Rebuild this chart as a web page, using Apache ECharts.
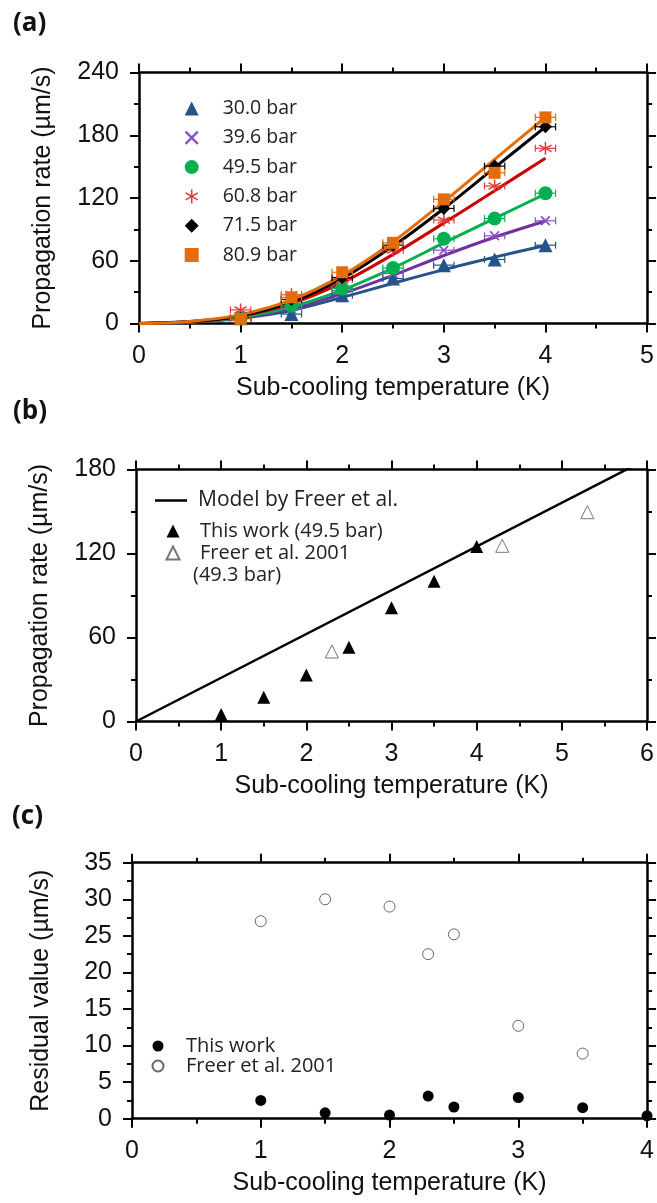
<!DOCTYPE html>
<html>
<head>
<meta charset="utf-8">
<script src="https://cdn.jsdelivr.net/npm/echarts@6/dist/echarts.min.js"></script>
<style>
html,body{margin:0;padding:0;background:#fff;}
#chart{width:657px;height:1203px;}
</style>
</head>
<body>
<div id="chart"></div>
<script>
// ---------------- DATA ----------------
// Panel (a): measured points (sub-cooling temperature K)
const ptsX = [1, 1.5, 2, 2.5, 3, 3.5, 4];
const names = ['30.0 bar', '39.6 bar', '49.5 bar', '60.8 bar', '71.5 bar', '80.9 bar'];
const p30 = [5, 9, 27, 43, 55.8, 61.2, 74.9];
const p39 = [5, 14, 31.5, 47.8, 70.1, 83.8, 98.2];
const p49 = [5, 17, 33.5, 53, 81, 100.3, 124.6];
const p60 = [13, 27.5, 42, 70.1, 98.9, 131.4, 167.5];
const p71 = [5, 23, 44, 74.9, 110, 150.5, 188.1];
const p80 = [4.5, 25, 49, 77.1, 118.7, 144.1, 197.1];
const xErr = [0.1, 0.1, 0.1, 0.1, 0.1, 0.1, 0.1];
const yErr30 = [0, 5, 6, 0, 0, 0, 0];
const yErrNone = [0, 0, 0, 0, 0, 0, 0];
// Panel (a): fitted curves
const fitX = [0, 0.5, 1, 1.5, 2, 2.5, 3, 3.5, 4];
const f30 = [0, 1.2, 5, 12.5, 25, 38.5, 51.5, 63.5, 74.5];
const f39 = [0, 1.3, 5.5, 14, 28.5, 46, 65, 82.5, 98];
const f49 = [0, 1.4, 6, 16, 32, 53, 77, 100.5, 124];
const f60 = [0, 1.6, 7, 19, 39, 66, 96, 127, 158];
const f71 = [0, 1.8, 7.5, 20.5, 43, 74, 110, 149, 188];
const f80 = [0, 2, 8.5, 22.5, 46, 78, 116.5, 157, 197];

// Panel (b)
const modelX = [0, 6];
const modelY = [0, 187.5];
const bWorkX = [1, 1.5, 2, 2.5, 3, 3.5, 4];
const bWorkY = [5, 17.4, 33.3, 53, 81.2, 100.2, 125];
const bFreerX = [2.3, 4.3, 5.3];
const bFreerY = [50, 125.5, 149.5];

// Panel (c)
const cWorkX = [1, 1.5, 2, 2.3, 2.5, 3, 3.5, 4];
const cWorkY = [2.5, 0.8, 0.5, 3.1, 1.6, 2.9, 1.5, 0.4];
const cFreerX = [1, 1.5, 2, 2.3, 2.5, 3, 3.5];
const cFreerY = [27, 30, 29, 22.5, 25.2, 12.7, 8.9];

// Axis ticks
const aX = {min: 0, max: 5, interval: 1};
const aY = {min: 0, max: 240, interval: 60};
const bX = {min: 0, max: 6, interval: 1};
const bY = {min: 0, max: 180, interval: 60};
const cX = {min: 0, max: 4, interval: 1};
const cY = {min: 0, max: 35, interval: 5};

// ---------------- STYLE ----------------
const colA = {
  mk: ['#24548a', '#8a4fc4', '#00b050', '#e03c3c', '#000000', '#e46c0a'],
  ln: ['#24548a', '#7030a0', '#00b050', '#cc0000', '#000000', '#e46c0a']
};
const crossPath = 'path://M0,1.2L1.2,0L5,3.8L8.8,0L10,1.2L6.2,5L10,8.8L8.8,10L5,6.2L1.2,10L0,8.8L3.8,5Z';
function starPath() {
  const R = 5, h = 0.55, ri = h / Math.sin(Math.PI / 6);
  const angs = [90, 30, -30, -90, -150, 150];
  const pts = [];
  const P = (a, r) => [5 + r * Math.cos(a), 5 - r * Math.sin(a)];
  angs.forEach(d => {
    const a = d * Math.PI / 180;
    const tx = R * Math.cos(a), ty = R * Math.sin(a);
    const px = -Math.sin(a) * h, py = Math.cos(a) * h;
    pts.push([5 + tx + px, 5 - (ty + py)]);
    pts.push([5 + tx - px, 5 - (ty - py)]);
    pts.push(P(a - Math.PI / 6, ri));
  });
  return 'path://M' + pts.map(p => p[0].toFixed(2) + ',' + p[1].toFixed(2)).join('L') + 'Z';
}
const symA = ['triangle', crossPath, 'circle', starPath(), 'diamond', 'rect'];
const sizeA = [14, 10, 14, 13, 13, 12];

const TF = 'Liberation Sans';
const LF = 'Open Sans';

function axisCommon(range, extra) {
  return Object.assign({
    type: 'value', min: range.min, max: range.max, interval: range.interval,
    axisLine: {show: true, onZero: false, lineStyle: {color: '#000', width: 2.5}},
    axisTick: {show: true, inside: false, length: 9, lineStyle: {color: '#000', width: 2}},
    minorTick: {show: true, splitNumber: 2, length: 5, lineStyle: {color: '#000', width: 2}},
    splitLine: {show: false},
    axisLabel: {show: false, fontFamily: TF, fontSize: 25, color: '#111', margin: 20},
    nameTextStyle: {fontFamily: TF, fontSize: 25, color: '#111'}
  }, extra || {});
}
function xBottom(g, r, gap) {
  return axisCommon(r, {gridIndex: g, position: 'bottom',
    axisLabel: {show: true, fontFamily: TF, fontSize: 25, color: '#111', margin: 20},
    name: 'Sub-cooling temperature (K)', nameLocation: 'middle', nameGap: gap});
}
function xTop(g, r) { return axisCommon(r, {gridIndex: g, position: 'top'}); }
function yLeft(g, r, name, gap) {
  return axisCommon(r, {gridIndex: g, position: 'left',
    axisLabel: {show: true, fontFamily: TF, fontSize: 25, color: '#111', margin: 20},
    name: name, nameLocation: 'middle', nameGap: gap});
}
function yRight(g, r) { return axisCommon(r, {gridIndex: g, position: 'right'}); }

function errRender(params, api) {
  const x = api.value(0), y = api.value(1), xe = api.value(2), ye = api.value(3);
  const color = api.visual('color');
  const st = {stroke: color, lineWidth: 1.2};
  const l = api.coord([x - xe, y]), r = api.coord([x + xe, y]);
  const ch = [
    {type: 'line', shape: {x1: l[0], y1: l[1], x2: r[0], y2: r[1]}, style: st},
    {type: 'line', shape: {x1: l[0], y1: l[1] - 3.5, x2: l[0], y2: l[1] + 3.5}, style: st},
    {type: 'line', shape: {x1: r[0], y1: r[1] - 3.5, x2: r[0], y2: r[1] + 3.5}, style: st}
  ];
  if (ye > 0) {
    const t = api.coord([x, y + ye]), b = api.coord([x, y - ye]);
    ch.push({type: 'line', shape: {x1: t[0], y1: t[1], x2: b[0], y2: b[1]}, style: st});
    ch.push({type: 'line', shape: {x1: t[0] - 3.5, y1: t[1], x2: t[0] + 3.5, y2: t[1]}, style: st});
    ch.push({type: 'line', shape: {x1: b[0] - 3.5, y1: b[1], x2: b[0] + 3.5, y2: b[1]}, style: st});
  }
  return {type: 'group', children: ch};
}

const pts = [p30, p39, p49, p60, p71, p80];
const fits = [f30, f39, f49, f60, f71, f80];
const yErrs = [yErr30, yErrNone, yErrNone, yErrNone, yErrNone, yErrNone];

const series = [];
// Panel (a)
fits.forEach((f, i) => {
  series.push({
    type: 'line', name: 'fit ' + names[i], xAxisIndex: 0, yAxisIndex: 0,
    data: fitX.map((x, k) => [x, f[k]]), smooth: 0.3,
    symbol: 'none', lineStyle: {color: colA.ln[i], width: 3}, z: 3, silent: true
  });
});
pts.forEach((p, i) => {
  series.push({
    type: 'custom', name: 'err ' + names[i], xAxisIndex: 0, yAxisIndex: 0,
    renderItem: errRender, itemStyle: {color: colA.mk[i]},
    encode: {x: 0, y: 1}, z: 4, silent: true,
    data: ptsX.map((x, k) => [x, p[k], xErr[k], yErrs[i][k]])
  });
});
pts.forEach((p, i) => {
  series.push({
    type: 'scatter', name: names[i], xAxisIndex: 0, yAxisIndex: 0,
    symbol: symA[i], symbolSize: sizeA[i], itemStyle: {color: colA.mk[i], opacity: 1},
    data: ptsX.map((x, k) => [x, p[k]]), z: 5, silent: true
  });
});
// Panel (b)
series.push({
  type: 'line', name: 'Model by Freer et al.', xAxisIndex: 2, yAxisIndex: 2,
  data: modelX.map((x, k) => [x, modelY[k]]), symbol: 'none', clip: true,
  lineStyle: {color: '#000', width: 2.5}, itemStyle: {color: '#000'}, silent: true
});
series.push({
  type: 'scatter', name: 'This work (49.5 bar)', xAxisIndex: 2, yAxisIndex: 2,
  symbol: 'triangle', symbolSize: 13, itemStyle: {color: '#000', opacity: 1},
  data: bWorkX.map((x, k) => [x, bWorkY[k]]), z: 5, silent: true
});
series.push({
  type: 'scatter', name: 'Freer et al. 2001', xAxisIndex: 2, yAxisIndex: 2,
  symbol: 'triangle', symbolSize: 13,
  itemStyle: {color: '#fff', borderColor: '#777', borderWidth: 1, opacity: 1},
  data: bFreerX.map((x, k) => [x, bFreerY[k]]), z: 5, silent: true
});
// Panel (c)
series.push({
  type: 'scatter', name: 'This work', xAxisIndex: 4, yAxisIndex: 4,
  symbol: 'circle', symbolSize: 11, itemStyle: {color: '#000', opacity: 1},
  data: cWorkX.map((x, k) => [x, cWorkY[k]]), z: 5, silent: true
});
series.push({
  type: 'scatter', name: 'Freer et al. 2001 ', xAxisIndex: 4, yAxisIndex: 4,
  symbol: 'circle', symbolSize: 11,
  itemStyle: {color: '#fff', borderColor: '#666', borderWidth: 1, opacity: 1},
  data: cFreerX.map((x, k) => [x, cFreerY[k]]), z: 5, silent: true
});

const lt = (pad, fs) => ({fontFamily: LF, fontSize: fs, color: '#222', lineHeight: 20, padding: [0, 0, 0, pad]});

const option = {
  animation: false,
  backgroundColor: '#fff',
  grid: [
    {left: 139, top: 72.5, width: 510, height: 251},
    {left: 136, top: 469.5, width: 511, height: 252},
    {left: 132, top: 862.7, width: 520, height: 256}
  ],
  xAxis: [
    xBottom(0, aX, 52), xTop(0, aX),
    xBottom(1, bX, 52), xTop(1, bX),
    xBottom(2, cX, 52), xTop(2, cX)
  ],
  yAxis: [
    yLeft(0, aY, 'Propagation rate (µm/s)', 83), yRight(0, aY),
    yLeft(1, bY, 'Propagation rate (µm/s)', 83), yRight(1, bY),
    yLeft(2, cY, 'Residual value (µm/s)', 78), yRight(2, cY)
  ],
  legend: [
    {orient: 'vertical', left: 184.7, top: 98.5, padding: 0, itemWidth: 14, itemHeight: 14, itemGap: 9.3,
      textStyle: lt(19, 19.5), selectedMode: false, data: names},
    {orient: 'vertical', left: 155, top: 490, padding: 0, itemWidth: 32, itemHeight: 2.5, itemGap: 0,
      symbolKeepAspect: false, textStyle: lt(6, 21), selectedMode: false,
      data: [{name: 'Model by Freer et al.', icon: 'rect'}]},
    {orient: 'vertical', left: 165.5, top: 521, padding: 0, itemWidth: 13, itemHeight: 13, itemGap: 2,
      textStyle: lt(15.5, 20), selectedMode: false,
      data: ['This work (49.5 bar)', 'Freer et al. 2001']},
    {orient: 'vertical', left: 151.5, top: 1036, padding: 0, itemWidth: 11, itemHeight: 11, itemGap: 0,
      textStyle: lt(17.5, 20), selectedMode: false,
      data: ['This work', 'Freer et al. 2001 ']}
  ],
  graphic: [
    {type: 'text', left: 13, top: 11, style: {text: '(a)', font: 'bold 26px "Open Sans"', fill: '#111'}},
    {type: 'text', left: 13, top: 399, style: {text: '(b)', font: 'bold 26px "Open Sans"', fill: '#111'}},
    {type: 'text', left: 12, top: 804, style: {text: '(c)', font: 'bold 26px "Open Sans"', fill: '#111'}},
    {type: 'text', left: 193, top: 565, style: {text: '(49.3 bar)', font: '20px "Open Sans"', fill: '#222'}}
  ],
  series: series
};

const chart = echarts.init(document.getElementById('chart'), null, {renderer: 'canvas'});
chart.setOption(option);
</script>
</body>
</html>
